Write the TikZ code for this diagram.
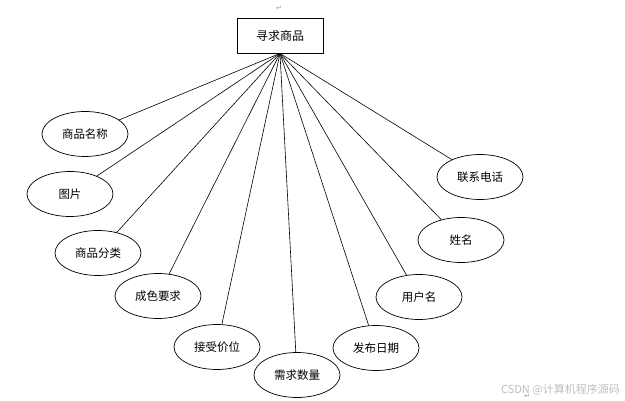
\documentclass[tikz,border=0pt]{standalone}
\usepackage{fontspec}
\setmainfont{Noto Sans CJK SC}
\newfontfamily\symfont{DejaVu Sans}
\usetikzlibrary{shapes.geometric}

\begin{document}
\begin{tikzpicture}[x=1pt,y=-1pt,line join=round,
		attr/.style={draw,ellipse,minimum width=86pt,minimum height=45pt,inner sep=0pt,line width=.7pt,font=\fontsize{11.5}{13}\selectfont},
		entity/.style={draw,rectangle,minimum width=86pt,minimum height=35pt,inner sep=0pt,line width=.9pt,font=\fontsize{12}{14}\selectfont},
		link/.style={line width=.6pt},
		retmark/.style={text=gray!80,inner sep=0pt,font=\symfont\fontsize{7}{8}\selectfont}]
	\useasboundingbox (0,0) rectangle (625,401);
	
	\node[entity] (goods) at (280,35.5) {寻求商品};
	\node[retmark] (rettop) at (279,8) {↵};
	
	% attributes round the entity
	\foreach \n/\x/\y/\t in {
		gname/85/134/商品名称,
		pic/70/194/图片,
		kind/98/253/商品分类,
		cond/158/296/成色要求,
		price/217/347/接受价位,
		qty/297/375/需求数量,
		date/376/348/发布日期,
		user/419/297/用户名,
		real/461/240/姓名,
		phone/480/177/联系电话}{
		\node[attr] (\n) at (\x,\y) {\t};
		\draw[link] (goods.south) -- (\n);
	}
	
	\node[text=gray!50,inner sep=0pt,anchor=east,font=\fontsize{11}{12}\selectfont] (wmark) at (620,390) {CSDN @计算机程序源码};
	\node[retmark] (retbot) at (527,396) {↵};
\end{tikzpicture}
\end{document}
